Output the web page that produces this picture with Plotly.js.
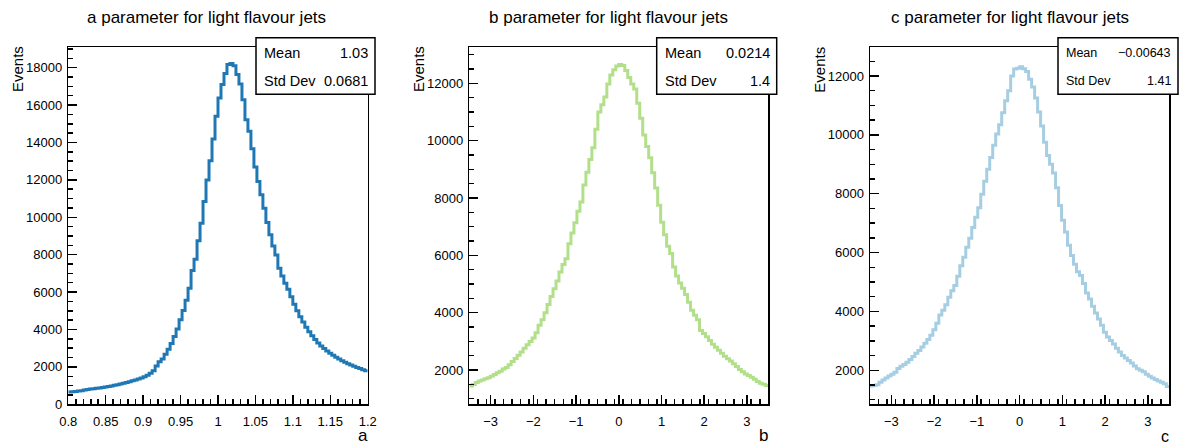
<!DOCTYPE html>
<html>
<head>
<meta charset="utf-8">
<script src="https://cdn.plot.ly/plotly-3.0.1.min.js"></script>
<style>html,body{margin:0;padding:0;background:#fff;}#chart{width:1191px;height:446px;}</style>
</head>
<body>
<div id="chart"></div>
<script>
// ---- data (bin contents) ----
const aRange = [0.8, 1.2];
const aValues = [660,675,690,705,725,760,790,815,835,855,
875,900,930,955,985,1015,1045,1085,1125,1170,
1210,1255,1300,1350,1410,1470,1550,1660,1800,2050,
2280,2420,2680,2950,3250,3620,4030,4520,5020,5570,
6200,7150,7760,8750,9680,10840,12000,13020,14190,15400,
16380,17100,17690,18170,18220,18110,17630,17130,16290,15220,
14600,13670,12690,11920,11200,10490,9720,9060,8470,7990,
7270,6860,6470,6150,5750,5350,5000,4680,4400,4120,
3880,3660,3460,3280,3120,2980,2850,2730,2620,2520,
2420,2330,2250,2170,2100,2030,1970,1910,1850,1790];

const bRange = [-3.5, 3.5];
const bValues = [1440,1490,1560,1620,1650,1690,1730,1780,1840,1900,
1960,2030,2090,2180,2300,2400,2510,2630,2760,2880,
2990,3120,3300,3560,3750,4000,4280,4560,4830,5100,
5420,5680,5880,6400,6780,7140,7540,7860,8450,8900,
9340,9750,10400,11000,11250,11520,11980,12290,12470,12600,
12660,12620,12450,12200,11980,11800,11300,10780,10200,9800,
9400,8880,8350,7750,7150,6720,6320,6060,5590,5280,
5030,4850,4630,4360,4080,3910,3750,3380,3270,3160,
3030,2900,2790,2690,2580,2480,2390,2310,2220,2120,
2020,1940,1860,1810,1750,1680,1600,1540,1500,1460];

const cRange = [-3.5, 3.5];
const cValues = [1470,1480,1510,1590,1670,1740,1810,1870,1930,2060,
2140,2200,2270,2370,2470,2580,2670,2790,2920,3050,
3190,3380,3600,3880,4040,4230,4480,4700,4880,5200,
5550,5840,6180,6490,6850,7200,7520,7980,8420,8830,
9230,9650,10030,10340,10750,11160,11500,12000,12240,12260,
12310,12250,12150,11890,11630,11250,10780,10300,9750,9300,
9000,8700,8200,7600,7100,6700,6250,5900,5600,5350,
5220,4950,4630,4420,4180,3950,3740,3530,3290,3130,
3010,2890,2750,2620,2500,2420,2330,2250,2150,2050,
2000,1950,1870,1800,1740,1690,1640,1590,1540,1450];

// tick labels
const aXTickVals = [0.8,0.85,0.9,0.95,1,1.05,1.1,1.15,1.2];
const aXTickText = ['0.8','0.85','0.9','0.95','1','1.05','1.1','1.15','1.2'];
const aYTickVals = [0,2000,4000,6000,8000,10000,12000,14000,16000,18000];
const aYTickText = ['0','2000','4000','6000','8000','10000','12000','14000','16000','18000'];
const bcXTickVals = [-3,-2,-1,0,1,2,3];
const bcXTickText = ['\u22123','\u22122','\u22121','0','1','2','3'];
const bcYTickVals = [2000,4000,6000,8000,10000,12000];
const bcYTickText = ['2000','4000','6000','8000','10000','12000'];

const titles = ['a parameter for light flavour jets','b parameter for light flavour jets','c parameter for light flavour jets'];
const xTitles = ['a','b','c'];
const statsMean = ['1.03','0.0214','\u22120.00643'];
const statsStd = ['0.0681','1.4','1.41'];
const colors = ['#1f78b4','#b2df8a','#a6cee3'];

// ---- helpers ----
const W = 1191, H = 446;
const px = x => x / W;
const py = y => 1 - y / H;
const FONT = 'Liberation Sans, Arial, Helvetica, sans-serif';

function stepTrace(vals, range, color, xa, ya) {
  const n = vals.length, w = (range[1] - range[0]) / n;
  const xs = [], ys = [];
  for (let i = 0; i < n; i++) { xs.push(range[0] + i * w); ys.push(vals[i]); }
  xs.push(range[1]); ys.push(vals[n - 1]);
  return {x: xs, y: ys, type: 'scatter', mode: 'lines', line: {shape: 'hv', color: color, width: 3},
          xaxis: xa, yaxis: ya, hoverinfo: 'skip', showlegend: false};
}

const data = [
  stepTrace(aValues, aRange, colors[0], 'x', 'y'),
  stepTrace(bValues, bRange, colors[1], 'x2', 'y2'),
  stepTrace(cValues, cRange, colors[2], 'x3', 'y3')
];

const yDom = [py(404.3), py(47.3)];
function xAxis(dom, range, tv, tt, minorD, anchor) {
  return {domain: dom, range: range, anchor: anchor, showline: true, mirror: true, linecolor: '#000', linewidth: 1.5,
    ticks: 'inside', ticklen: 9, tickwidth: 1.5, tickcolor: '#000', tickmode: 'array', tickvals: tv, ticktext: tt,
    minor: {dtick: minorD, tick0: range[0], ticks: 'inside', ticklen: 5, tickwidth: 1.5, tickcolor: '#000', showgrid: false},
    showgrid: false, zeroline: false, tickfont: {family: FONT, size: 13, color: '#000'}, ticklabelstandoff: 5, fixedrange: true};
}
function yAxis(range, tv, tt, anchor) {
  return {domain: yDom, range: range, anchor: anchor, showline: true, mirror: true, linecolor: '#000', linewidth: 1.5,
    ticks: 'inside', ticklen: 9, tickwidth: 1.5, tickcolor: '#000', tickmode: 'array', tickvals: tv, ticktext: tt,
    minor: {dtick: 500, tick0: 0, ticks: 'inside', ticklen: 5, tickwidth: 1.5, tickcolor: '#000', showgrid: false},
    showgrid: false, zeroline: false, tickfont: {family: FONT, size: 13, color: '#000'}, ticklabelstandoff: 2, fixedrange: true};
}

const frames = [[68.3, 367.7], [469.3, 768.3], [870.0, 1169.3]];
const titleCx = [206.5, 608, 1009.5];
const boxes = [[256, 375], [656.7, 776.7], [1058, 1178]];
const statsFont = [14.5, 14.5, 12.5];
const xTitleSize = [17, 17, 16];

const layout = {
  width: W, height: H, margin: {l: 0, r: 0, t: 0, b: 0}, paper_bgcolor: '#fff', plot_bgcolor: '#fff',
  font: {family: FONT, color: '#000'}, showlegend: false,
  xaxis: xAxis([px(frames[0][0]), px(frames[0][1])], aRange, aXTickVals, aXTickText, 0.01, 'y'),
  yaxis: yAxis([0, 19090], aYTickVals, aYTickText, 'x'),
  xaxis2: xAxis([px(frames[1][0]), px(frames[1][1])], bRange, bcXTickVals, bcXTickText, 0.2, 'y2'),
  yaxis2: yAxis([803, 13256], bcYTickVals, bcYTickText, 'x2'),
  xaxis3: xAxis([px(frames[2][0]), px(frames[2][1])], cRange, bcXTickVals, bcXTickText, 0.2, 'y3'),
  yaxis3: yAxis([845, 12975], bcYTickVals, bcYTickText, 'x3'),
  shapes: [], annotations: []
};

for (let k = 0; k < 3; k++) {
  const ann = layout.annotations;
  ann.push({text: titles[k], xref: 'paper', yref: 'paper', x: px(titleCx[k]), y: py(17), xanchor: 'center', yanchor: 'middle',
    showarrow: false, font: {family: FONT, size: 17, color: '#000'}});
  ann.push({text: 'Events', xref: 'paper', yref: 'paper', x: px(frames[k][0] - 50.8), y: py(69.5), xanchor: 'center', yanchor: 'middle',
    textangle: -90, showarrow: false, font: {family: FONT, size: 15, color: '#000'}});
  ann.push({text: xTitles[k], xref: 'paper', yref: 'paper', x: px(frames[k][1] + 1), y: 0, xanchor: 'right', yanchor: 'bottom',
    borderpad: 0, showarrow: false, font: {family: FONT, size: xTitleSize[k], color: '#000'}});
  layout.shapes.push({type: 'rect', xref: 'paper', yref: 'paper', x0: px(boxes[k][0]), x1: px(boxes[k][1]), y0: py(94.3), y1: py(37.7),
    line: {color: '#000', width: 1.5}, fillcolor: '#fff', layer: 'above'});
  ann.push({text: 'Mean', xref: 'paper', yref: 'paper', x: px(boxes[k][0] + 6), y: py(53), xanchor: 'left', yanchor: 'middle',
    showarrow: false, font: {family: FONT, size: statsFont[k], color: '#000'}});
  ann.push({text: statsMean[k], xref: 'paper', yref: 'paper', x: px(boxes[k][1] - 5), y: py(53), xanchor: 'right', yanchor: 'middle',
    showarrow: false, font: {family: FONT, size: statsFont[k], color: '#000'}});
  ann.push({text: 'Std Dev', xref: 'paper', yref: 'paper', x: px(boxes[k][0] + 6), y: py(81), xanchor: 'left', yanchor: 'middle',
    showarrow: false, font: {family: FONT, size: statsFont[k], color: '#000'}});
  ann.push({text: statsStd[k], xref: 'paper', yref: 'paper', x: px(boxes[k][1] - 5), y: py(81), xanchor: 'right', yanchor: 'middle',
    showarrow: false, font: {family: FONT, size: statsFont[k], color: '#000'}});
}

Plotly.newPlot('chart', data, layout, {staticPlot: true, displayModeBar: false});
</script>
</body>
</html>
